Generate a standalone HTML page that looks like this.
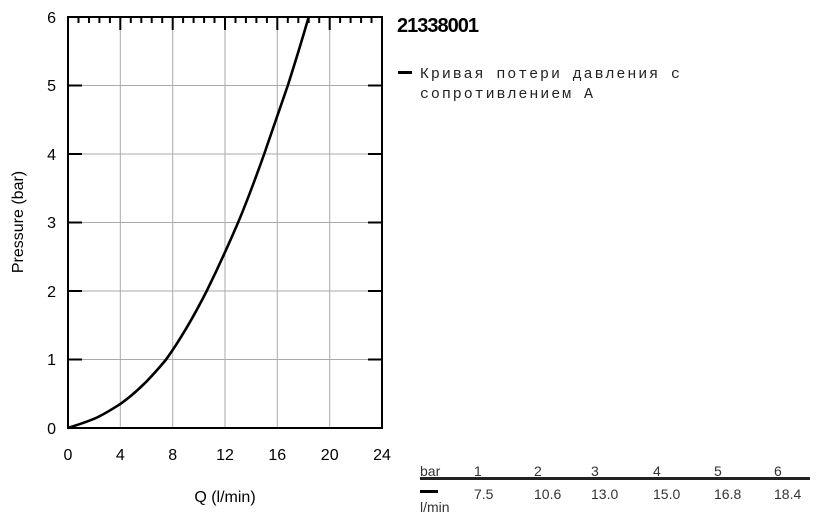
<!DOCTYPE html><html><head><meta charset="utf-8"><style>body{margin:0;background:#fff}svg{display:block}</style></head><body>
<svg width="820" height="522" xmlns="http://www.w3.org/2000/svg" font-family="Liberation Sans, Arial, sans-serif">
<g stroke="#aaa" stroke-width="1">
<line x1="120.3" y1="17" x2="120.3" y2="428"/><line x1="172.7" y1="17" x2="172.7" y2="428"/><line x1="225" y1="17" x2="225" y2="428"/><line x1="277.3" y1="17" x2="277.3" y2="428"/><line x1="329.7" y1="17" x2="329.7" y2="428"/>
<line x1="68" y1="85.5" x2="382" y2="85.5"/><line x1="68" y1="154" x2="382" y2="154"/><line x1="68" y1="222.5" x2="382" y2="222.5"/><line x1="68" y1="291" x2="382" y2="291"/><line x1="68" y1="359.5" x2="382" y2="359.5"/>
</g>
<g stroke="#000" stroke-width="2">
<path d="M78.5 17v6M89 17v6M99.4 17v6M109.9 17v6M130.8 17v6M141.3 17v6M151.7 17v6M162.2 17v6M183.1 17v6M193.6 17v6M204.1 17v6M214.5 17v6M235.5 17v6M245.9 17v6M256.4 17v6M266.9 17v6M287.8 17v6M298.3 17v6M308.7 17v6M319.2 17v6M340.1 17v6M350.6 17v6M361.1 17v6M371.5 17v6"/>
<path d="M120.3 17v13M172.7 17v13M225 17v13M277.3 17v13M329.7 17v13"/>
<path d="M68 85.5h14M68 154h14M68 222.5h14M68 291h14M68 359.5h14M382 85.5h-14M382 154h-14M382 222.5h-14M382 291h-14M382 359.5h-14"/>
<rect x="68" y="17" width="314" height="411" fill="none"/>
</g>
<path d="M68 428 C80 424 90 421 98 417 C108 412 114 408 120.3 404 C140 390 154 374 166.1 359.5 C180 340 194 316 206.7 291 C218 268 228 246 238.1 222.5 C248 199 256 177 264.2 154 C272 131 280 108 287.8 85.5 C295 63 302 40 308.7 17" fill="none" stroke="#000" stroke-width="2.6"/>
<g font-size="16" fill="#000" text-anchor="end">
<text x="56" y="23">6</text><text x="56" y="91">5</text><text x="56" y="160">4</text><text x="56" y="228">3</text><text x="56" y="297">2</text><text x="56" y="365">1</text><text x="56" y="434">0</text></g>
<g font-size="16" fill="#000" text-anchor="middle">
<text x="68" y="460">0</text><text x="120.3" y="460">4</text><text x="172.7" y="460">8</text><text x="225" y="460">12</text><text x="277.3" y="460">16</text><text x="329.7" y="460">20</text><text x="382" y="460">24</text>
<text x="225" y="502">Q (l/min)</text>
<text transform="translate(23,222) rotate(-90)">Pressure (bar)</text></g>
<text x="397" y="32" font-size="20" font-weight="bold" letter-spacing="-1">21338001</text>
<rect x="398" y="71" width="14" height="3" fill="#000"/>
<g font-family="Liberation Mono, monospace" font-size="15" fill="#222"><text x="420" y="78" textLength="260" lengthAdjust="spacing">Кривая потери давления с</text><text x="420" y="98" textLength="173" lengthAdjust="spacing">сопротивлением A</text></g>
<rect x="420" y="477" width="390" height="3" fill="#222"/>
<rect x="420" y="490" width="18" height="3" fill="#000"/>
<g font-size="14" fill="#333"><text x="420" y="476">bar</text><text x="420" y="512">l/min</text>
<text x="474" y="476">1</text><text x="534" y="476">2</text><text x="591" y="476">3</text><text x="653" y="476">4</text><text x="714" y="476">5</text><text x="774" y="476">6</text>
<text x="474" y="499">7.5</text><text x="534" y="499">10.6</text><text x="591" y="499">13.0</text><text x="653" y="499">15.0</text><text x="714" y="499">16.8</text><text x="774" y="499">18.4</text></g>
</svg></body></html>
